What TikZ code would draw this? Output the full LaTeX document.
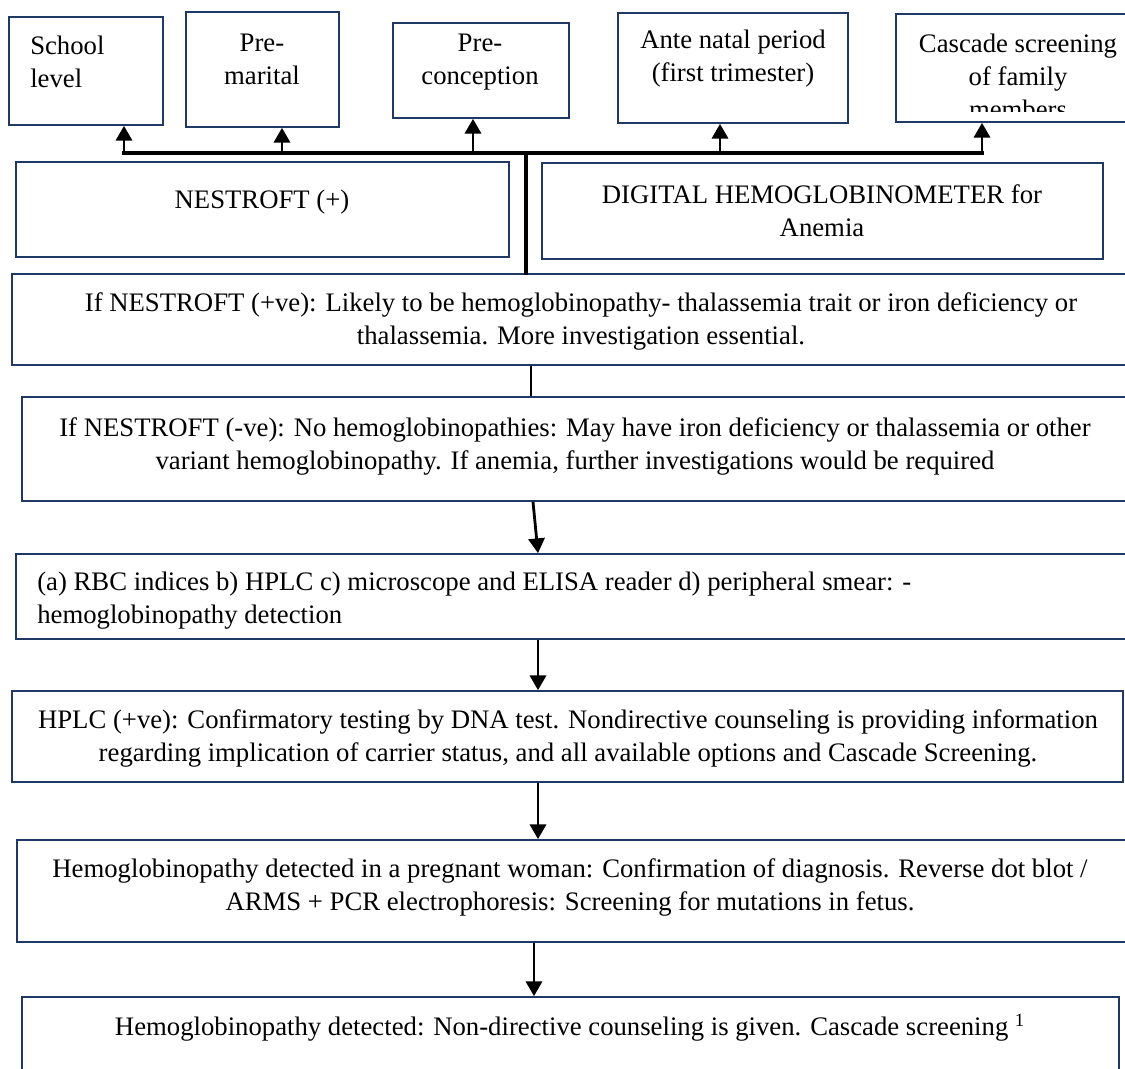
\documentclass[tikz,border=0pt]{standalone}
\usepackage{fontspec}
\setmainfont{Liberation Serif}
\usepackage{tikz}
\usetikzlibrary{arrows.meta,positioning,fit}
\definecolor{boxblue}{RGB}{31,56,100}
\tikzset{
  box/.style={draw=boxblue,line width=1.2pt,inner sep=0pt},
  txt/.style={inner sep=0pt,align=center},
  bus/.style={line width=2.3pt,line cap=rect},
  arr/.style={line width=2pt,-{Triangle[width=11.5pt,length=10.5pt]}},
}

\begin{document}
\begin{tikzpicture}[x=0.025cm,y=-0.025cm,font=\fontsize{19}{23.5}\selectfont]
\clip (0,0) rectangle (1125,1068);
\useasboundingbox (0,0) rectangle (1125,1068);
% settings row
\node[box,fit={(9,17) (163,125)}] (school) {};
\node[box,fit={(186,12) (339,127)}] (premar) {};
\node[box,fit={(393,23) (569,118)}] (precon) {};
\node[box,fit={(618,13) (848,123)}] (antenat) {};
\node[box,fit={(896,14) (1140,122)}] (cascade) {};
\node[txt,align=left,anchor=west] (schoolt) at (30,62) {School\\level};
\node[txt] (premart) at (262,59) {Pre-\\marital};
\node[txt] (precont) at (480,62) {Pre-\\conception};
\node[txt] (antenatt) at (733,59) {Ante natal period\\(first trimester)};
\begin{scope}
  \clip (896,14) rectangle (1140,111);
  \node[txt] (cascadet) at (1018,76) {Cascade screening\\of family\\members};
\end{scope}
% tests
\node[box,fit={(16,162) (509,257)}] (nest) {};
\node[box,fit={(542,163) (1103,259)}] (digital) {};
\node[txt] (nestt) at (262,202) {NESTROFT (+)};
\node[txt] (digitalt) at (822,211) {DIGITAL HEMOGLOBINOMETER for\\Anemia};
% flow
\node[box,fit={(12,274) (1150,365)}] (pos) {};
\node[box,fit={(22,397) (1128,501)}] (neg) {};
\node[box,fit={(16,554) (1140,639)}] (rbc) {};
\node[box,fit={(12,691) (1123,782)}] (hplc) {};
\node[box,fit={(17,840) (1135,942)}] (preg) {};
\node[box,fit={(22,997) (1119,1090)}] (final) {};
\node[txt] (post) at (581,321) {If NESTROFT (+ve): Likely to be hemoglobinopathy- thalassemia trait or iron deficiency or\\thalassemia. More investigation essential.};
\node[txt] (negt) at (575,446) {If NESTROFT (-ve): No hemoglobinopathies: May have iron deficiency or thalassemia or other\\variant hemoglobinopathy. If anemia, further investigations would be required};
\node[txt,align=left,anchor=west] (rbct) at (37,601) {(a) RBC indices b) HPLC c) microscope and ELISA reader d) peripheral smear: -\\hemoglobinopathy detection};
\node[txt] (hplct) at (568,738) {HPLC (+ve): Confirmatory testing by DNA test. Nondirective counseling is providing information\\regarding implication of carrier status, and all available options and Cascade Screening.};
\node[txt] (pregt) at (570,887) {Hemoglobinopathy detected in a pregnant woman: Confirmation of diagnosis. Reverse dot blot /\\ARMS + PCR electrophoresis: Screening for mutations in fetus.};
\node[txt] (finalt) at (570,1028) {Hemoglobinopathy detected: Non-directive counseling is given. Cascade screening \textsuperscript{1}};
% connectors
\coordinate (hub) at (526,153);
\foreach \n/\x in {school/124,premar/282,precon/473,antenat/720,cascade/982}{
  \coordinate (b\n) at (\x,153);
  \draw[arr] (b\n) -- (b\n |- \n.south);
}
\draw[bus] (bschool) -- (bcascade);
\draw[bus] (hub) -- (hub |- pos.north);
\coordinate (v1) at (531,0);
\coordinate (v2) at (533,0);
\coordinate (v3) at (538,0);
\coordinate (v4) at (534,0);
\draw[line width=2pt] (v1 |- pos.south) -- (v1 |- neg.north);
\draw[arr] (v2 |- neg.south) -- (v3 |- rbc.north);
\draw[arr] (v3 |- rbc.south) -- (v3 |- hplc.north);
\draw[arr] (v3 |- hplc.south) -- (v3 |- preg.north);
\draw[arr] (v4 |- preg.south) -- (v4 |- final.north);
\end{tikzpicture}
\end{document}
